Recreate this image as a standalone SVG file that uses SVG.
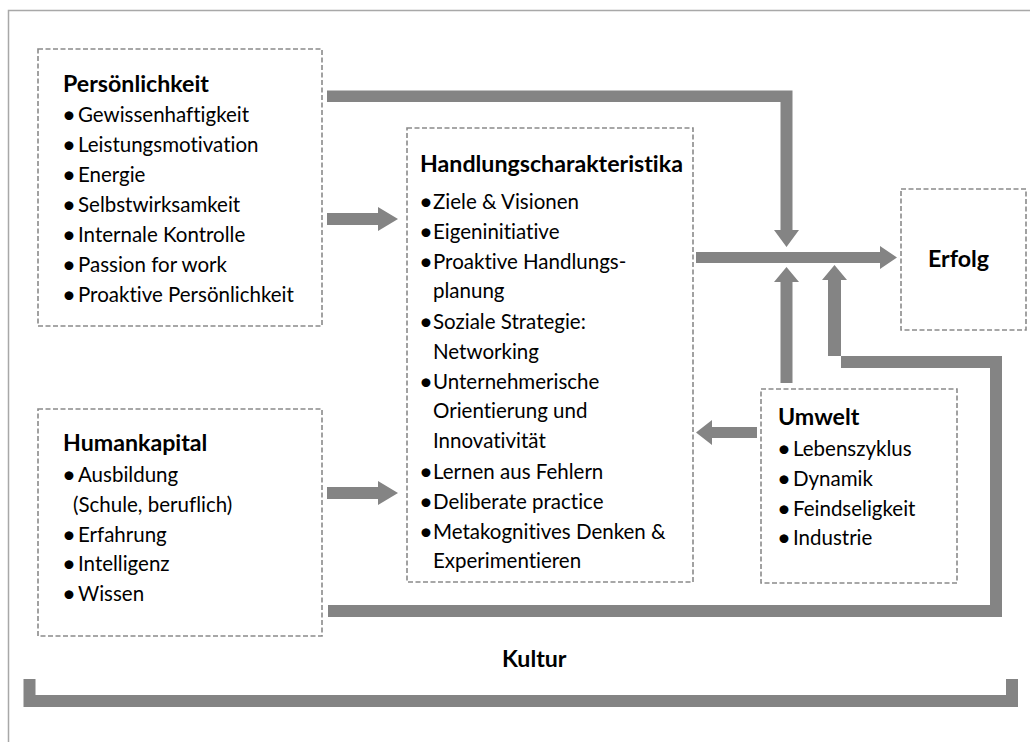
<svg xmlns="http://www.w3.org/2000/svg" width="1030" height="742" viewBox="0 0 1030 742">
<style>
text{font-family:Lato,"Open Sans",sans-serif;fill:#000;font-variant-ligatures:none;font-feature-settings:"liga" 0}
.t{font-weight:bold;font-size:23.2px}
.i{font-size:20.5px}
.b{font-size:24px}
.box{fill:#fff;stroke:#8a8a8a;stroke-width:1.6;stroke-dasharray:5 2.5}
.ar{fill:#848484}
</style>
<rect width="1030" height="742" fill="#fff"/>
<path d="M8.5 742V10.5H1030" fill="none" stroke="#a8a8a8" stroke-width="1.5"/>

<g id="connectors">
<path class="ar" d="M327 90.5H792.5V230H799L786.5 247L774 230H780.5V102H327Z"/>
<path class="ar" d="M696 252H880V246L897 257.5L880 269V263H696Z"/>
<path class="ar" d="M780.5 383V282H774L786.5 267L799 282H792.5V383Z"/>
<path class="ar" d="M328 605H990V368H841V280H847L834.5 265L822 280H828V356H1002V617H328Z"/>
<path class="ar" d="M757 427H712V420L696 432.5L712 445V438H757Z"/>
<path class="ar" d="M327 213H378V207L398 219L378 231V225H327Z"/>
<path class="ar" d="M327 487H378V481L398 493L378 505V499H327Z"/>
</g>

<g id="persoenlichkeit">
<rect class="box" x="38" y="49" width="284" height="277"/>
<text class="t" x="63" y="92">Persönlichkeit</text>
<text class="i"><tspan class="b" x="62" y="123">•</tspan><tspan x="78" y="122">Gewissenhaftigkeit</tspan></text>
<text class="i"><tspan class="b" x="62" y="153">•</tspan><tspan x="78" y="152">Leistungsmotivation</tspan></text>
<text class="i"><tspan class="b" x="62" y="183">•</tspan><tspan x="78" y="182">Energie</tspan></text>
<text class="i"><tspan class="b" x="62" y="213">•</tspan><tspan x="78" y="212">Selbstwirksamkeit</tspan></text>
<text class="i"><tspan class="b" x="62" y="243">•</tspan><tspan x="78" y="242">Internale Kontrolle</tspan></text>
<text class="i"><tspan class="b" x="62" y="273">•</tspan><tspan x="78" y="272">Passion for work</tspan></text>
<text class="i"><tspan class="b" x="62" y="303">•</tspan><tspan x="78" y="302">Proaktive Persönlichkeit</tspan></text>
</g>

<g id="humankapital">
<rect class="box" x="38" y="409" width="284" height="227"/>
<text class="t" x="63" y="451">Humankapital</text>
<text class="i"><tspan class="b" x="62" y="483">•</tspan><tspan x="78" y="482">Ausbildung</tspan></text>
<text class="i" x="73" y="512">(Schule, beruflich)</text>
<text class="i"><tspan class="b" x="62" y="543">•</tspan><tspan x="78" y="542">Erfahrung</tspan></text>
<text class="i"><tspan class="b" x="62" y="572">•</tspan><tspan x="78" y="571">Intelligenz</tspan></text>
<text class="i"><tspan class="b" x="62" y="602">•</tspan><tspan x="78" y="601">Wissen</tspan></text>
</g>

<g id="handlung">
<rect class="box" x="407" y="128" width="286" height="454"/>
<text class="t" x="420" y="172">Handlungscharakteristika</text>
<text class="i"><tspan class="b" x="419" y="210">•</tspan><tspan x="433" y="209">Ziele &amp; Visionen</tspan></text>
<text class="i"><tspan class="b" x="419" y="240">•</tspan><tspan x="433" y="239">Eigeninitiative</tspan></text>
<text class="i"><tspan class="b" x="419" y="270">•</tspan><tspan x="433" y="269">Proaktive Handlungs-</tspan></text>
<text class="i" x="433" y="298">planung</text>
<text class="i"><tspan class="b" x="419" y="330">•</tspan><tspan x="433" y="329">Soziale Strategie:</tspan></text>
<text class="i" x="433" y="359">Networking</text>
<text class="i"><tspan class="b" x="419" y="390">•</tspan><tspan x="433" y="389">Unternehmerische</tspan></text>
<text class="i" x="433" y="418">Orientierung und</text>
<text class="i" x="433" y="448">Innovativität</text>
<text class="i"><tspan class="b" x="419" y="480">•</tspan><tspan x="433" y="479">Lernen aus Fehlern</tspan></text>
<text class="i"><tspan class="b" x="419" y="510">•</tspan><tspan x="433" y="509">Deliberate practice</tspan></text>
<text class="i"><tspan class="b" x="419" y="540">•</tspan><tspan x="433" y="539">Metakognitives Denken &amp;</tspan></text>
<text class="i" x="433" y="568">Experimentieren</text>
</g>

<g id="erfolg">
<rect class="box" x="901" y="189" width="125" height="141"/>
<text class="t" x="928" y="267">Erfolg</text>
</g>

<g id="umwelt">
<rect class="box" x="761" y="389" width="196" height="194"/>
<text class="t" x="778" y="425">Umwelt</text>
<text class="i"><tspan class="b" x="777" y="457">•</tspan><tspan x="793" y="456">Lebenszyklus</tspan></text>
<text class="i"><tspan class="b" x="777" y="487">•</tspan><tspan x="793" y="486">Dynamik</tspan></text>
<text class="i"><tspan class="b" x="777" y="517">•</tspan><tspan x="793" y="516">Feindseligkeit</tspan></text>
<text class="i"><tspan class="b" x="777" y="546">•</tspan><tspan x="793" y="545">Industrie</tspan></text>
</g>

<g id="kultur">
<path d="M29.5 679V701H1012V679" fill="none" stroke="#848484" stroke-width="12"/>
<text class="t" x="502" y="667">Kultur</text>
</g>
</svg>
